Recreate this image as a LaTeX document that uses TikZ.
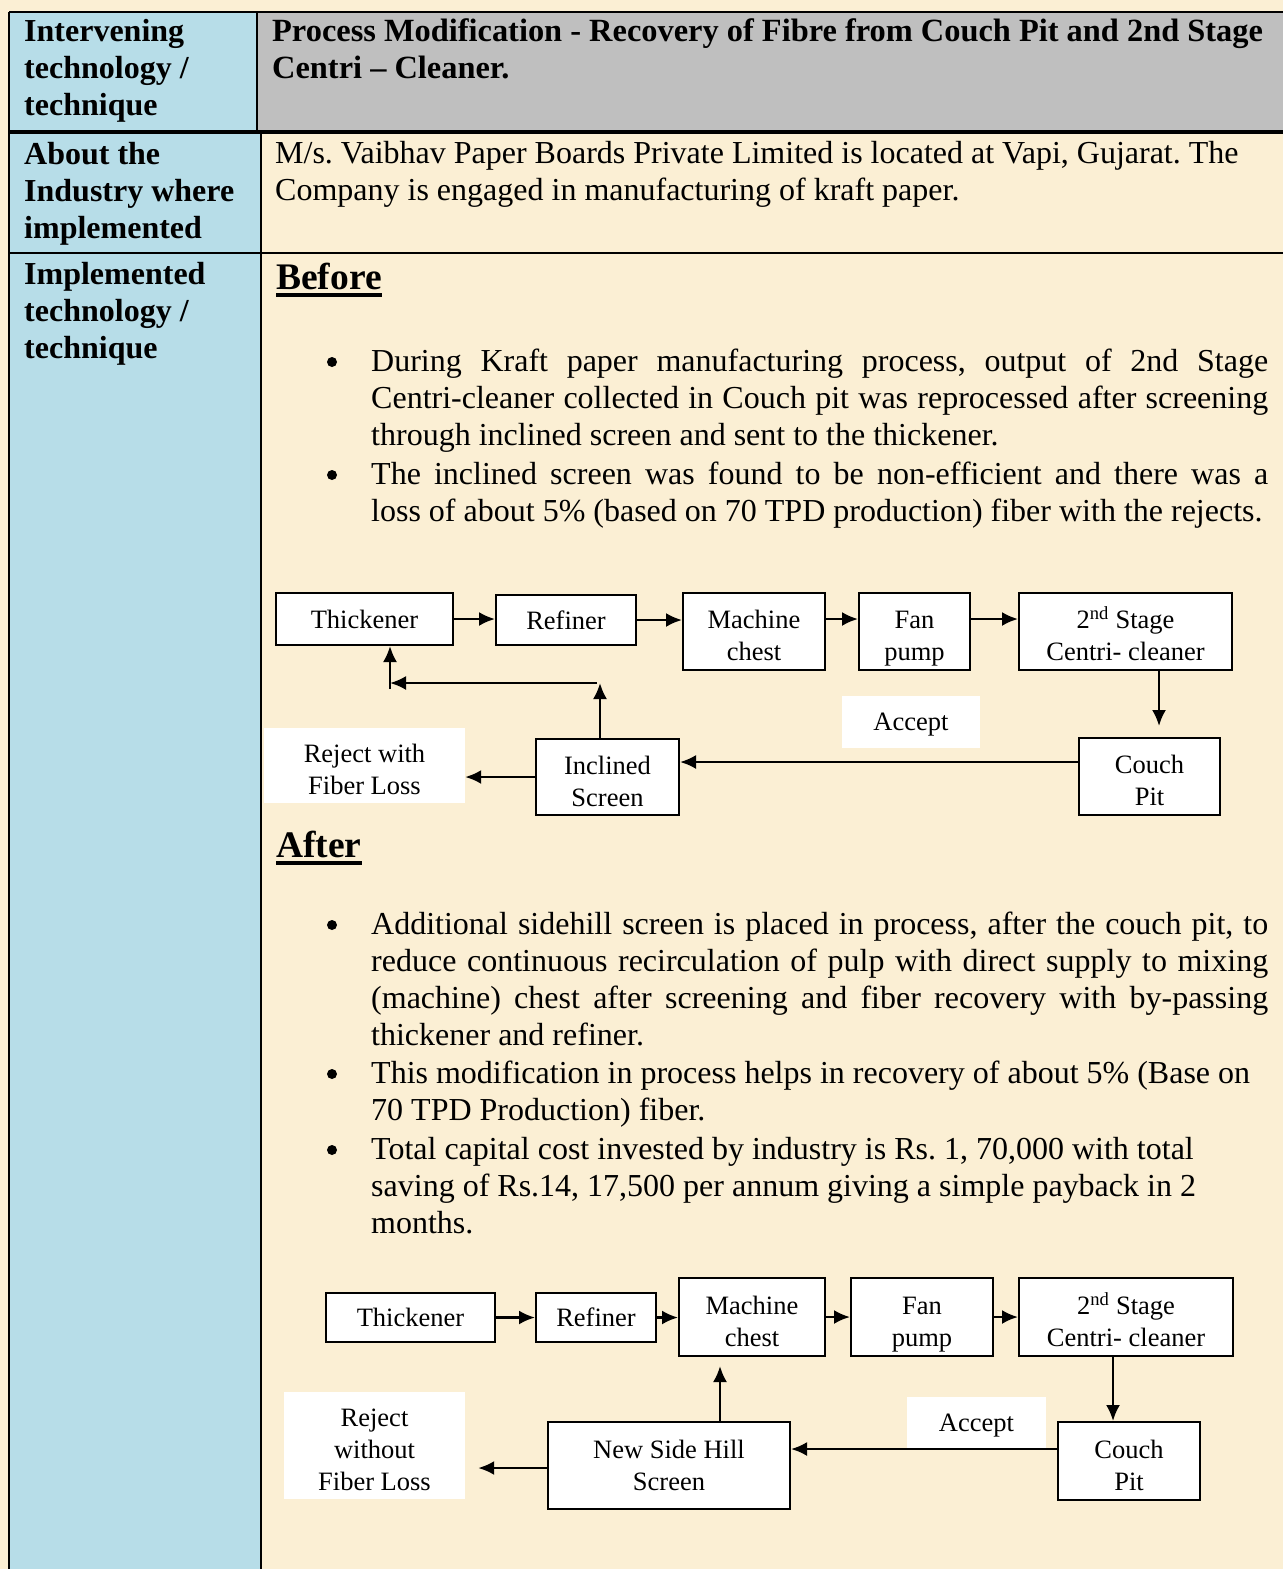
\documentclass[tikz,border=0pt]{standalone}
\usepackage{fontspec}
\setmainfont{Liberation Serif}
\usetikzlibrary{arrows.meta}
\definecolor{parchment}{RGB}{251,239,212}
\definecolor{cellblue}{RGB}{183,221,232}
\definecolor{cellgray}{RGB}{191,191,191}
\newcommand\bodyfont{\fontsize{32}{37}\selectfont\frenchspacing}
\newcommand\boxfont{\fontsize{26.5}{32}\selectfont}
\newcommand\headfont{\fontsize{37.5}{43}\selectfont\bfseries}
\newcommand\toprule{\rule{0pt}{26.5pt}}
\tikzset{
  box/.style={draw, line width=2pt, fill=white, align=center, font=\boxfont, inner sep=0pt, text depth=-3pt},
  note/.style={fill=white, align=center, font=\boxfont, inner sep=0pt, text depth=-3pt},
  arr/.style={line width=2.4pt, -{Latex[length=16pt,width=14pt]}},
  lefttxt/.style={anchor=base west, text width=232pt, align=justify, font=\bodyfont\bfseries, inner sep=0pt},
  bodytxt/.style={anchor=base west, text width=1000pt, align=justify, font=\bodyfont, inner sep=0pt},
  bullettxt/.style={anchor=base west, text width=897pt, align=justify, font=\bodyfont, inner sep=0pt},
  dot/.style={circle, fill=black, minimum size=10pt, inner sep=0pt},
  uline/.style={line width=3.5pt},
}
\begin{document}
\begin{tikzpicture}[x=1pt, y=-1pt]
                \useasboundingbox (0,0) rectangle (1283,1569);
                \fill[parchment] (0,0) rectangle (1283,1569);

                % table cells and rules
                \fill[cellgray] (257,12) rectangle (1283,132);
                \fill[cellblue] (9,12) rectangle (257,132);
                \fill[cellblue] (9,132) rectangle (261,1569);
                \draw[line width=2.5pt] (9,12) -- (1283,12);
                \draw[line width=2.5pt] (9,12) -- (9,1569);
                \draw[line width=2.5pt] (257,12) -- (257,132);
                \draw[line width=4pt] (9,132) -- (1283,132);
                \draw[line width=2.5pt] (261,132) -- (261,1569);
                \draw[line width=2pt] (9,253) -- (1283,253);

                % left column headings
                \node[lefttxt] (techhead) at (24,41) {Intervening\\technology /\\technique};
                \node[lefttxt] (abouthead) at (24,164) {About the\\Industry where\\implemented};
                \node[lefttxt] (implhead) at (24,284) {Implemented\\technology /\\technique};

                % right column texts
                \node[lefttxt, text width=1005pt, font=\fontsize{32.4}{37}\selectfont\frenchspacing\bfseries] (title) at (272,41) {Process Modification - Recovery of Fibre from Couch Pit and 2nd Stage\\Centri – Cleaner.};
                \node[bodytxt] (about) at (275,163) {M/s. Vaibhav Paper Boards Private Limited is located at Vapi, Gujarat. The\\Company is engaged in manufacturing of kraft paper.};

                % before
                \node[anchor=base west, font=\headfont, inner sep=0pt] (before) at (276,289) {Before};
                \draw[uline] ([yshift=-6pt]before.base west) -- ([yshift=-6pt]before.base east);
                \node[dot] (dotA1) at (332,362) {};
                \node[bullettxt] (textA1) at (371,371) {During Kraft paper manufacturing process, output of 2nd Stage\linebreak Centri-cleaner collected in Couch pit was reprocessed after screening\linebreak through inclined screen and sent to the thickener.};
                \node[dot] (dotA2) at (332,475) {};
                \node[bullettxt] (textA2) at (371,484) {The inclined screen was found to be non-efficient and there was a\linebreak loss of about 5\% (based on 70 TPD production) fiber with the rejects.};

                \node[box, minimum width=177, minimum height=52] (thickA) at (364.5,619) {Thickener};
                \node[box, minimum width=140, minimum height=50] (refA) at (566,620) {Refiner};
                \node[box, minimum width=142, minimum height=77] (chestA) at (754,631.5) {\toprule Machine\\chest};
                \node[box, minimum width=111, minimum height=77] (fanA) at (914.5,631.5) {\toprule Fan\\pump};
                \node[box, minimum width=213, minimum height=77] (cleanA) at (1125.5,631.5) {\toprule 2\textsuperscript{nd} Stage\\Centri- cleaner};
                \node[box, minimum width=141, minimum height=77] (couchA) at (1149.5,776.5) {\toprule Couch\\Pit};
                \node[box, minimum width=143, minimum height=76] (screenA) at (607.5,777) {\toprule Inclined\\Screen};
                \node[note, minimum width=201, minimum height=75] (rejA) at (364.5,765.5) {\toprule Reject with\\Fiber Loss};
                \node[note, minimum width=138, minimum height=52] (accA) at (911,722) {Accept};

                \draw[arr] (thickA.east) -- (thickA.east -| refA.west);
                \draw[arr] (refA.east) -- (refA.east -| chestA.west);
                \draw[arr] (chestA.east |- thickA.east) -- (thickA.east -| fanA.west);
                \draw[arr] (fanA.east |- thickA.east) -- (thickA.east -| cleanA.west);
                \draw[arr, shorten >=11pt] ([xshift=9.5pt]cleanA.south -| couchA.north) -- ([xshift=9.5pt]couchA.north);
                \draw[arr] ([yshift=14.5pt]couchA.west) -- ([yshift=14.5pt]couchA.west -| screenA.east);
                \draw[arr] (screenA.west) -- (screenA.west -| rejA.east);
                \coordinate (upA) at (600,683);
                \coordinate (leftA) at (390,683);
                \draw[arr] (upA |- screenA.north) -- (upA);
                \draw[arr] ([xshift=-3pt]upA) -- (leftA);
                \draw[arr] ([yshift=-6pt]leftA) -- (leftA |- thickA.south);

                % after
                \node[anchor=base west, font=\headfont, inner sep=0pt] (after) at (276,857) {After};
                \draw[uline] ([yshift=-6pt]after.base west) -- ([yshift=-6pt]after.base east);
                \node[dot] (dotB1) at (332,925) {};
                \node[bullettxt] (textB1) at (371,934) {Additional sidehill screen is placed in process, after the couch pit, to\linebreak reduce continuous recirculation of pulp with direct supply to mixing\linebreak (machine) chest after screening and fiber recovery with by-passing\linebreak thickener and refiner.};
                \node[dot] (dotB2) at (332,1074) {};
                \node[bodytxt] (textB2) at (371,1083) {This modification in process helps in recovery of about 5\% (Base on\\70 TPD Production) fiber.};
                \node[dot] (dotB3) at (332,1150) {};
                \node[bodytxt] (textB3) at (371,1159) {Total capital cost invested by industry is Rs. 1, 70,000 with total\\saving of Rs.14, 17,500 per annum giving a simple payback in 2\\months.};

                \node[box, minimum width=169, minimum height=49] (thickB) at (410.5,1317.5) {Thickener};
                \node[box, minimum width=120, minimum height=49] (refB) at (596,1317.5) {Refiner};
                \node[box, minimum width=146, minimum height=78] (chestB) at (752,1317) {\toprule Machine\\chest};
                \node[box, minimum width=142, minimum height=78] (fanB) at (922,1317) {\toprule Fan\\pump};
                \node[box, minimum width=214, minimum height=78] (cleanB) at (1126,1317) {\toprule 2\textsuperscript{nd} Stage\\Centri- cleaner};
                \node[box, minimum width=142, minimum height=78] (couchB) at (1129,1461) {\toprule Couch\\Pit};
                \node[box, minimum width=242, minimum height=87] (screenB) at (669,1465.5) {New Side Hill\\Screen};
                \node[note, minimum width=181, minimum height=107] (rejB) at (374.5,1445.5) {\toprule Reject\\without\\Fiber Loss};
                \node[note, minimum width=139, minimum height=51] (accB) at (976.5,1422.5) {Accept};

                \draw[arr] (thickB.east) -- (thickB.east -| refB.west);
                \draw[arr] (refB.east) -- (refB.east -| chestB.west);
                \draw[arr] (chestB.east) -- (chestB.east -| fanB.west);
                \draw[arr] (fanB.east) -- (fanB.east -| cleanB.west);
                \draw[arr] ([xshift=-13pt]cleanB.south) -- ([xshift=-13pt]cleanB.south |- couchB.north);
                \draw[arr] ([yshift=12pt]couchB.west) -- ([yshift=12pt]couchB.west -| screenB.east);
                \draw[arr, shorten >=13pt] ([yshift=-2.5pt]screenB.west) -- ([yshift=-2.5pt]screenB.west -| rejB.east);
                \draw[arr, shorten >=9pt] ([xshift=51pt]screenB.north) -- ([xshift=51pt]screenB.north |- chestB.south);
            \end{tikzpicture}
\end{document}
